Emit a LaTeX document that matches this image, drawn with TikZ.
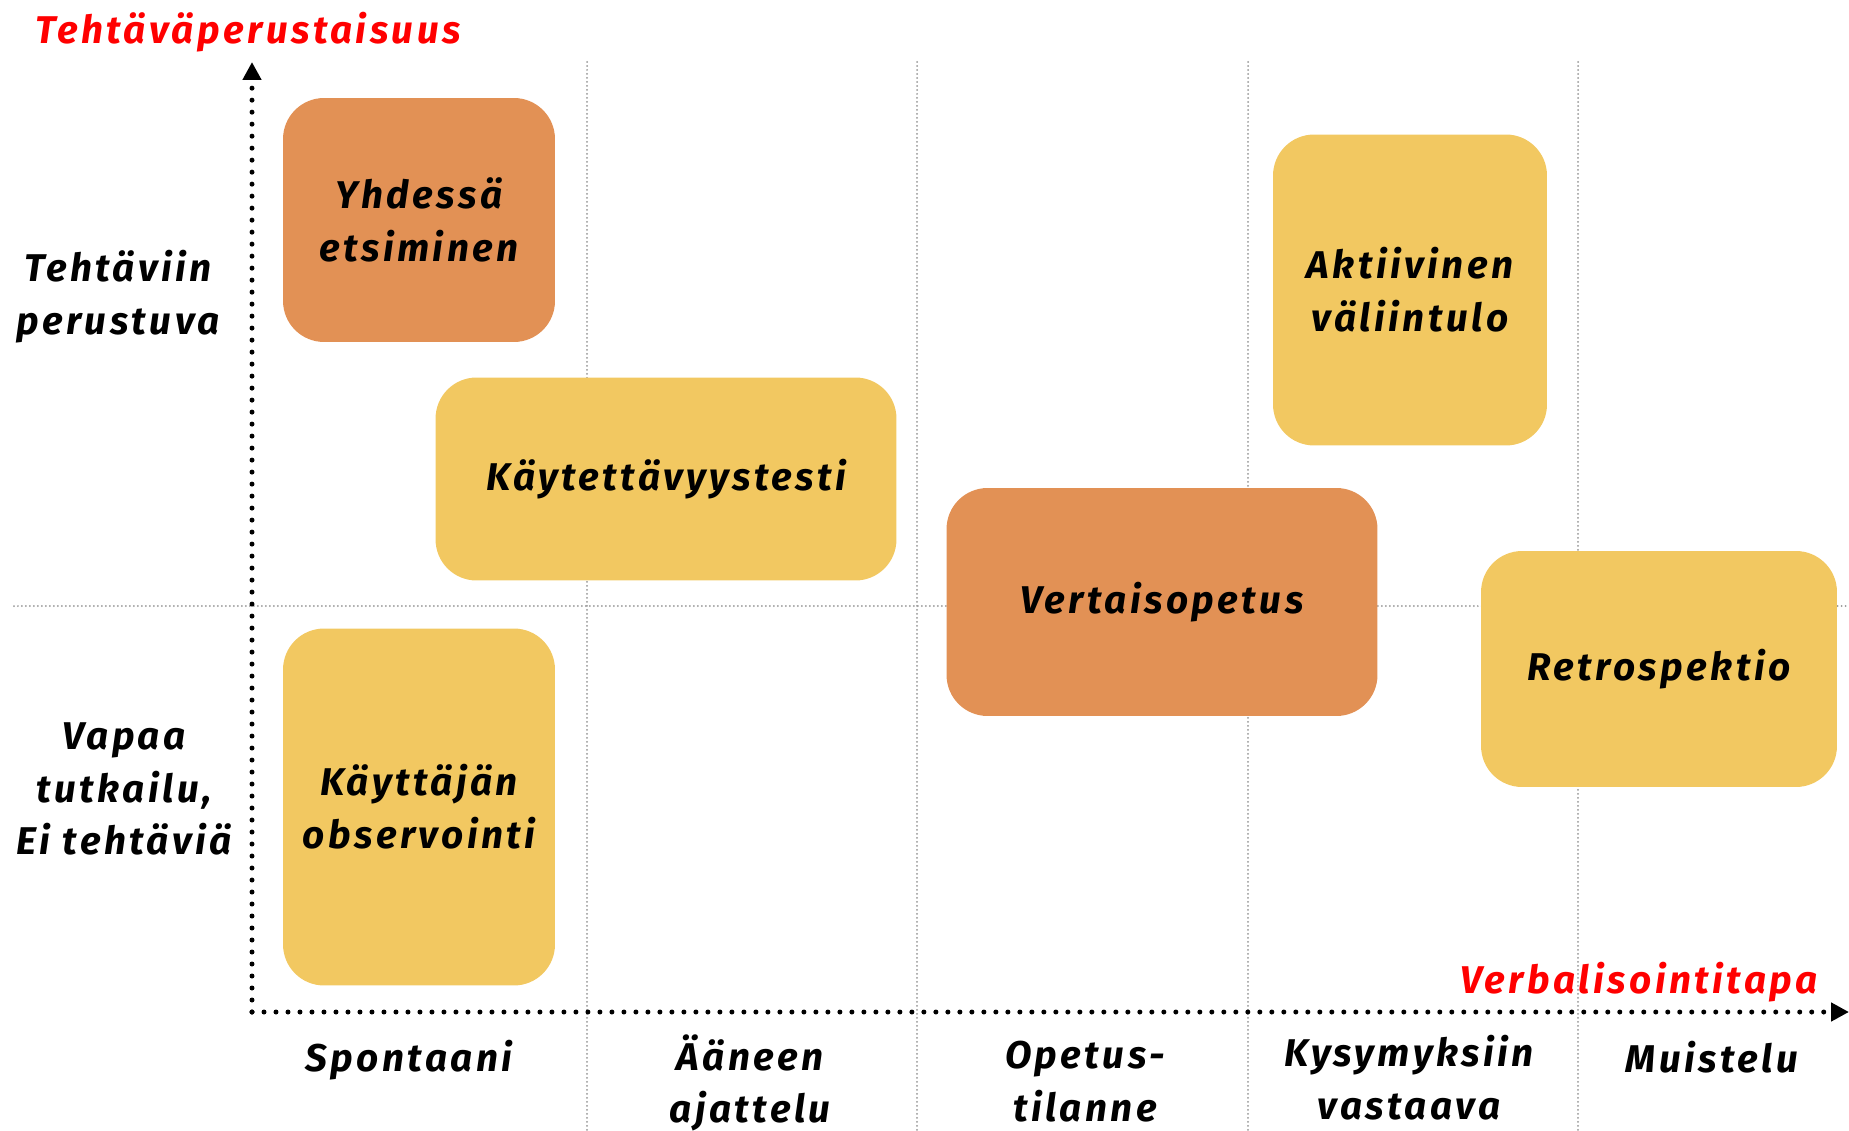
\documentclass[tikz,border=0pt]{standalone}
\usepackage{fontspec}
\newfontfamily\diafont[LetterSpace=9]{Fira Sans}
\usetikzlibrary{arrows.meta}

\definecolor{boxorange}{RGB}{226,145,85}
\definecolor{boxyellow}{RGB}{242,200,97}
\definecolor{gridgray}{RGB}{150,150,150}

\begin{document}
\begin{tikzpicture}[
                    x=0.02cm,
                    y=-0.02cm,
                    font=\diafont\bfseries\itshape\fontsize{22}{30}\selectfont,
                    >={Triangle[length=0.36cm,width=0.36cm]}
                ]
                \tikzstyle{every node}=[align=center,inner sep=0pt]
                \tikzstyle{gridline}=[draw=gridgray,line width=0.04cm,line cap=round,dash pattern=on 0pt off 0.08cm]
                \tikzstyle{axis}=[->,draw=black,line width=0.1cm,line cap=round,dash pattern=on 0pt off 0.24cm]
                \tikzstyle{axistitle}=[text=red]
                \tikzstyle{orangebox}=[fill=boxorange,rounded corners=0.82cm]
                \tikzstyle{yellowbox}=[fill=boxyellow,rounded corners=0.82cm]

                \useasboundingbox (0,0) rectangle (1849,1131);

                % grid
                \foreach \gx in {587,917,1248,1578}
                    \draw[gridline] (\gx,62) -- (\gx,1131);
                \draw[gridline] (14,606) -- (1849,606);

                % axes
                \coordinate (origin) at (252,1012);
                \coordinate (ytip)   at (252,62);
                \coordinate (xtip)   at (1849,1012);
                \draw[axis] (origin) -- (ytip);
                \draw[axis] (origin) -- (xtip);

                \node[axistitle] (ytitle) at (248,32)  {Tehtäväperustaisuus};
                \node[axistitle] (xtitle) at (1639,982) {Verbalisointitapa};

                % boxes
                \node[orangebox,minimum width=5.44cm,minimum height=4.88cm] (yhdessa)  at (419,220)  {Yhdessä\\etsiminen};
                \node[yellowbox,minimum width=9.22cm,minimum height=4.06cm] (kaytettavyys) at (666,479) {Käytettävyystesti};
                \node[yellowbox,minimum width=5.44cm,minimum height=7.14cm] (observointi) at (419,807) {Käyttäjän\\observointi};
                \node[orangebox,minimum width=8.62cm,minimum height=4.56cm] (vertais)  at (1162,602) {Vertaisopetus};
                \node[yellowbox,minimum width=5.48cm,minimum height=6.22cm] (aktiivinen) at (1410,290) {Aktiivinen\\väliintulo};
                \node[yellowbox,minimum width=7.12cm,minimum height=4.72cm] (retro)    at (1659,669) {Retrospektio};

                % y categories
                \node (tehtaviin) at (118,297) {Tehtäviin\\perustuva};
                \node (vapaa)     at (124,789) {Vapaa\\tutkailu,\\Ei tehtäviä};

                % x categories
                \node[anchor=north] (spontaani) at (409,1040) {Spontaani};
                \node[anchor=north] (aaneen)    at (750,1034) {Ääneen\\ajattelu};
                \node[anchor=north] (opetus)    at (1085,1041) {Opetus-\\tilanne};
                \node[anchor=north] (kysymys)   at (1409,1035) {Kysymyksiin\\vastaava};
                \node[anchor=north] (muistelu)  at (1712,1041) {Muistelu};
            \end{tikzpicture}
\end{document}
